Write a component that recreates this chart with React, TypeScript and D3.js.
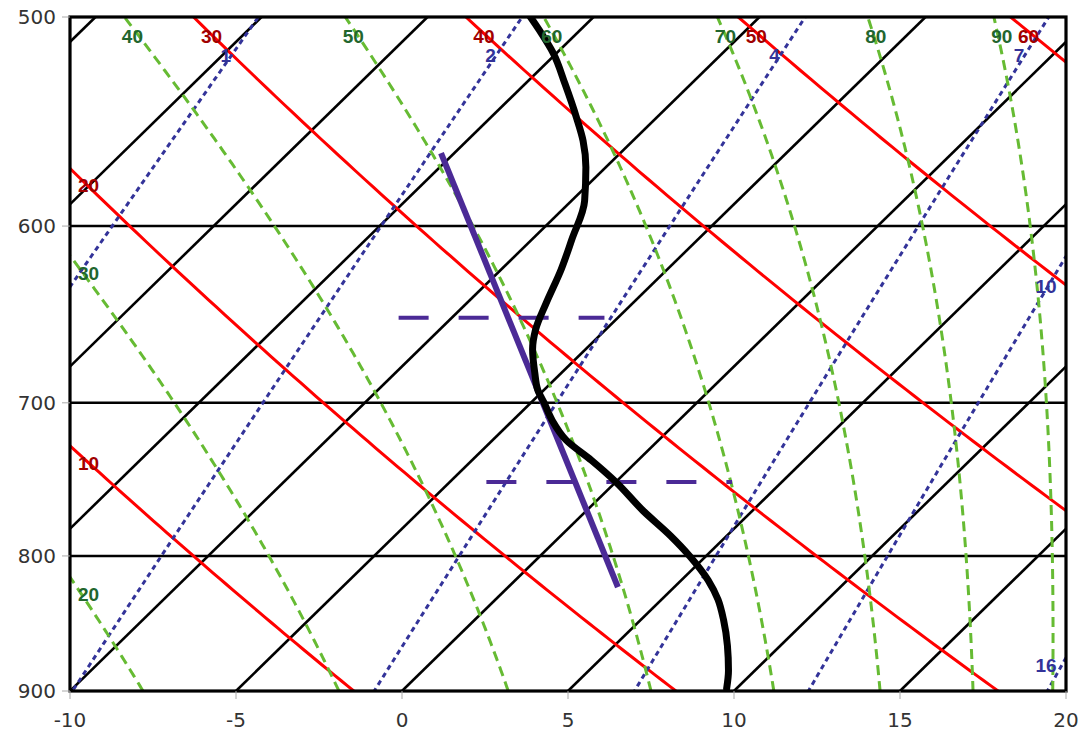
import React from "react";
import * as d3 from "d3";

// axis ticks
const pressureTicks = [500, 600, 700, 800, 900];
const tempTicks = [-10, -5, 0, 5, 10, 15, 20];
const pressureLines = [600, 700, 800];

// background line families (values of each line)
const isotherms = [-30, -25, -20, -15, -10, -5, 0, 5, 10, 15, 20];
const dryTheta = [280, 290, 300, 310, 320, 330]; // K
const dryLabels = ["10", "20", "30", "40", "50", "60"];
const moistStartT = [-7.8, -1.9, 3.2, 7.5, 11.2, 14.4, 17.2, 19.6]; // °C at 900 hPa
const moistLabels = ["20", "30", "40", "50", "60", "70", "80", "90"];
const mixRatios = [1, 2, 4, 7, 10, 16]; // g/kg
const mixLabels = ["1", "2", "4", "7", "10", "16"];

// temperature sounding
const soundP = [898, 884, 865, 846, 831, 817, 800, 786, 769, 750, 736, 723, 711, 700, 692, 682, 668, 657, 642, 623, 607, 587, 570, 557, 546, 530, 516, 506, 500];
const soundT = [9.7, 9.2, 8.4, 7.5, 6.7, 5.8, 4.5, 3.3, 1.7, 0.0, -1.4, -2.8, -3.8, -4.6, -5.2, -5.8, -6.6, -7.1, -7.6, -8.2, -8.8, -9.6, -10.6, -11.5, -12.4, -13.8, -15.1, -16.2, -16.9];

// purple line
const parcelP = [563, 822];
const parcelT = [-15.4, 3.3];

// dashed levels
const levelP = [650, 750];
const levelTFrom = [-11.6, -3.9];
const levelTTo = [-5.4, 3.5];

const W = 1086;
const H = 734;
const X0 = 70;
const X1 = 1066;
const Y0 = 17;
const Y1 = 691;
const SKEW = 1.023;

const x = d3.scaleLinear().domain([-10, 20]).range([X0, X1]);
const y = d3.scaleLog().domain([500, 900]).range([Y0, Y1]);
const sx = (t: number, p: number) => x(t) + SKEW * (y(900) - y(p));

const gridP = d3.range(440, 964, 4);

const es = (tc: number) => 6.112 * Math.exp((17.67 * tc) / (tc + 243.5));

function dryPts(theta: number): [number, number][] {
  return gridP.map((p) => [sx(theta * Math.pow(p / 1000, 0.2857) - 273.15, p), y(p)]);
}

function mixPts(w: number): [number, number][] {
  return gridP.map((p) => {
    const e = (w * p) / (622 + w);
    const l = Math.log(e / 6.112);
    return [sx((243.5 * l) / (17.67 - l), p), y(p)];
  });
}

function moistPts(t0: number): [number, number][] {
  const f = (p: number, T: number) => {
    const e = es(T - 273.15);
    const rs = (0.622 * e) / (p - e);
    return (287.04 * T + 2.501e6 * rs) / (p * (1005.7 + (2.501e6 * 2.501e6 * rs * 0.622) / (287.04 * T * T)));
  };
  let T = t0 + 273.15;
  let p = 900;
  const h = -2;
  const out: [number, number][] = [[sx(t0, p), y(p)]];
  while (p > 440) {
    const k1 = f(p, T);
    const k2 = f(p + h / 2, T + (h / 2) * k1);
    const k3 = f(p + h / 2, T + (h / 2) * k2);
    const k4 = f(p + h, T + h * k3);
    T += (h / 6) * (k1 + 2 * k2 + 2 * k3 + k4);
    p += h;
    out.push([sx(T - 273.15, p), y(p)]);
  }
  return out;
}

function crossAt(pts: [number, number][], key: 0 | 1, v: number): [number, number] | null {
  for (let i = 0; i < pts.length - 1; i++) {
    const a = pts[i];
    const b = pts[i + 1];
    if ((a[key] - v) * (b[key] - v) <= 0 && a[key] !== b[key]) {
      const t = (v - a[key]) / (b[key] - a[key]);
      return [a[0] + t * (b[0] - a[0]), a[1] + t * (b[1] - a[1])];
    }
  }
  return null;
}

// label at the upper-left end of a line (top edge or left edge)
function upperLeftLabel(pts: [number, number][], dxTop: number) {
  const top = crossAt(pts, 1, Y0);
  if (top && top[0] >= X0) return { x: top[0] + dxTop, y: 43, anchor: "middle" };
  const left = crossAt(pts, 0, X0);
  return { x: 78, y: (left ? left[1] : Y0) + 24, anchor: "start" };
}

function upperRightLabel(pts: [number, number][]) {
  const top = crossAt(pts, 1, Y0);
  if (top && top[0] <= X1) {
    const at = crossAt(pts, 1, 55);
    return { x: (at ? at[0] : top[0]) - 6, y: 62 };
  }
  const right = crossAt(pts, 0, X1);
  const yl = Math.min((right ? right[1] : Y1) + 30, 665);
  const at = crossAt(pts, 1, yl);
  return { x: Math.min((at ? at[0] : X1) - 2, 1046), y: yl + 7 };
}

const line = d3.line<[number, number]>();
const smooth = d3.line<[number, number]>().curve(d3.curveMonotoneY);

export default function App() {
  const dry = dryTheta.map(dryPts);
  const moist = moistStartT.map(moistPts);
  const mix = mixRatios.map(mixPts);
  const sounding: [number, number][] = soundP
    .map((p, i) => [sx(soundT[i], p), y(p)] as [number, number])
    .sort((a, b) => a[1] - b[1]);
  const parcel: [number, number][] = parcelP.map((p, i) => [sx(parcelT[i], p), y(p)]);

  const labelFont = "'Liberation Sans', Arial, sans-serif";
  const axisFont = "'DejaVu Sans', Verdana, sans-serif";

  return (
    <svg width={W} height={H} style={{ position: "absolute", left: 0, top: 0, background: "#fff" }}>
      <defs>
        <clipPath id="plot">
          <rect x={X0} y={Y0} width={X1 - X0} height={Y1 - Y0} />
        </clipPath>
      </defs>
      <g clipPath="url(#plot)">
        {pressureLines.map((p) => (
          <line key={p} x1={X0} x2={X1} y1={y(p)} y2={y(p)} stroke="#000" strokeWidth={2.6} />
        ))}
        {isotherms.map((t) => (
          <path key={t} d={line([[sx(t, 900), y(900)], [sx(t, 500), y(500)]]) || ""} stroke="#000" strokeWidth={2.6} fill="none" />
        ))}
        {dry.map((pts, i) => (
          <path key={i} d={line(pts) || ""} stroke="#ff0000" strokeWidth={3} fill="none" />
        ))}
        {mix.map((pts, i) => (
          <path key={i} d={line(pts) || ""} stroke="#333399" strokeWidth={3} strokeDasharray="5,4" fill="none" />
        ))}
        {moist.map((pts, i) => (
          <path key={i} d={line(pts) || ""} stroke="#66bb33" strokeWidth={3} strokeDasharray="10,6" fill="none" />
        ))}
        {levelP.map((p, i) => (
          <line key={p} x1={sx(levelTFrom[i], p)} x2={sx(levelTTo[i], p)} y1={y(p)} y2={y(p)} stroke="#4b2a96" strokeWidth={4} strokeDasharray="30,30" />
        ))}
        <path d={line(parcel) || ""} stroke="#4b2a96" strokeWidth={6} fill="none" />
        <path d={smooth(sounding) || ""} stroke="#000" strokeWidth={7} fill="none" strokeLinecap="round" />
      </g>

      {/* line labels */}
      <g fontFamily={labelFont} fontWeight="bold" fontSize={19}>
        {dry.map((pts, i) => {
          const l = upperLeftLabel(pts, 18);
          return (
            <text key={i} x={l.x} y={l.y} textAnchor={l.anchor} fill="#a00000">
              {dryLabels[i]}
            </text>
          );
        })}
        {moist.map((pts, i) => {
          const l = upperLeftLabel(pts, 8);
          return (
            <text key={i} x={l.x} y={l.y} textAnchor={l.anchor} fill="#22662e">
              {moistLabels[i]}
            </text>
          );
        })}
        {mix.map((pts, i) => {
          const l = upperRightLabel(pts);
          return (
            <text key={i} x={l.x} y={l.y} textAnchor="middle" fill="#333399">
              {mixLabels[i]}
            </text>
          );
        })}
      </g>

      {/* frame */}
      <rect x={X0} y={Y0} width={X1 - X0} height={Y1 - Y0} fill="none" stroke="#000" strokeWidth={3.2} />

      {/* axes */}
      <g fontFamily={axisFont} fontSize={20} fill="#333">
        {pressureTicks.map((p) => (
          <g key={p}>
            <line x1={X0 - 8} x2={X0} y1={y(p)} y2={y(p)} stroke="#aaa" strokeWidth={1} />
            <text x={X0 - 14} y={y(p)} textAnchor="end" dominantBaseline="central">
              {String(p)}
            </text>
          </g>
        ))}
        {tempTicks.map((t) => (
          <g key={t}>
            <line x1={x(t)} x2={x(t)} y1={Y1} y2={Y1 + 8} stroke="#aaa" strokeWidth={1} />
            <text x={x(t)} y={720} textAnchor="middle" dominantBaseline="central">
              {String(t)}
            </text>
          </g>
        ))}
      </g>
    </svg>
  );
}
